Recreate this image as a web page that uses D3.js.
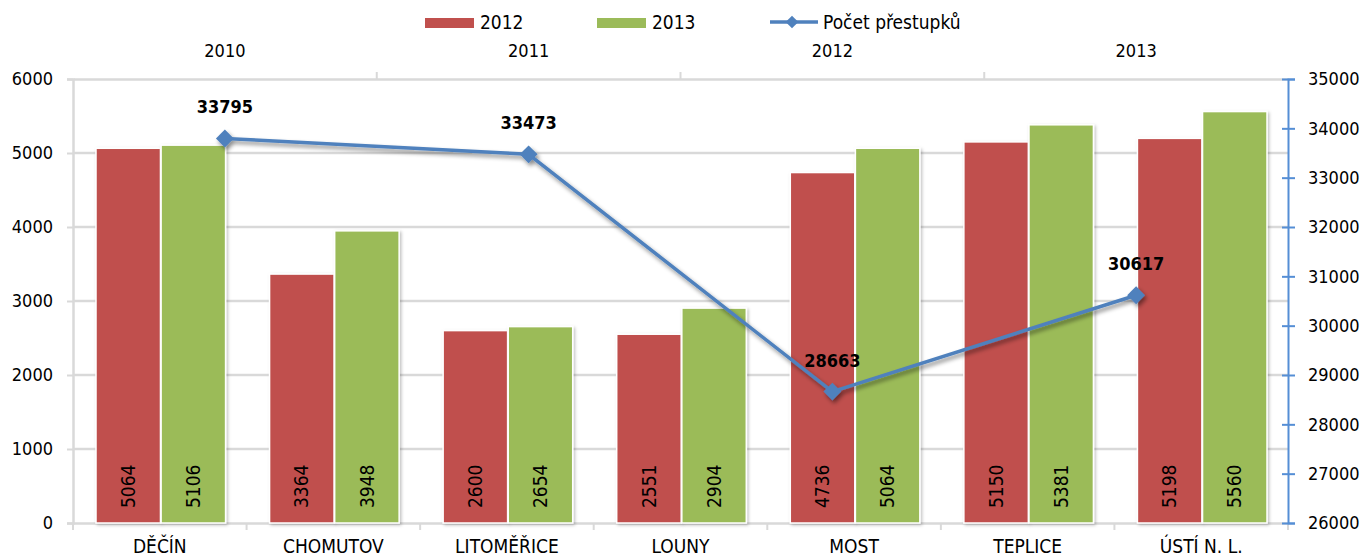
<!DOCTYPE html>
<html>
<head>
<meta charset="utf-8">
<script src="https://cdn.jsdelivr.net/npm/d3@7"></script>
<style>
  body { margin: 0; background: #fff; }
  svg text { font-family: "DejaVu Sans Condensed", "Liberation Sans Narrow", sans-serif; fill: #000; }
</style>
</head>
<body>
<div id="chart"></div>
<script>
// Data
var districts = ["DĚČÍN", "CHOMUTOV", "LITOMĚŘICE", "LOUNY", "MOST", "TEPLICE", "ÚSTÍ N. L."];
var values2012 = [5064, 3364, 2600, 2551, 4736, 5150, 5198];
var values2013 = [5106, 3948, 2654, 2904, 5064, 5381, 5560];
var years = ["2010", "2011", "2012", "2013"];
var offences = [33795, 33473, 28663, 30617];
var leftTicks = [0, 1000, 2000, 3000, 4000, 5000, 6000];
var rightTicks = [26000, 27000, 28000, 29000, 30000, 31000, 32000, 33000, 34000, 35000];

var width = 1365, height = 558;
var margin = {top: 79, right: 77, bottom: 35, left: 73};
var innerW = width - margin.left - margin.right;
var innerH = height - margin.top - margin.bottom;

var red = "#c0504d", green = "#9bbb59", blue = "#4f81bd", axisBlue = "#558ed5", grid = "#d9d9d9";

var svg = d3.select("#chart").append("svg")
    .attr("width", width)
    .attr("height", height);

// shadows like the office chart
var defs = svg.append("defs");
defs.append("filter").attr("id", "lineShadow")
    .attr("x", "-10%").attr("y", "-10%").attr("width", "120%").attr("height", "130%")
  .append("feDropShadow")
    .attr("dx", 2).attr("dy", 3).attr("stdDeviation", 2)
    .attr("flood-color", "#000").attr("flood-opacity", 0.45);
defs.append("filter").attr("id", "barShadow")
    .attr("x", "-10%").attr("y", "-5%").attr("width", "130%").attr("height", "115%")
  .append("feDropShadow")
    .attr("dx", 1.5).attr("dy", 1.5).attr("stdDeviation", 1.5)
    .attr("flood-color", "#000").attr("flood-opacity", 0.25);

var g = svg.append("g")
    .attr("transform", "translate(" + margin.left + "," + margin.top + ")");

// scales
var x = d3.scaleBand().domain(districts).range([0, innerW]).paddingInner(0).paddingOuter(0);
var xSub = d3.scaleBand().domain(["2012", "2013"]).range([23, x.bandwidth() - 21]).paddingInner(0.01);
var xTop = d3.scaleBand().domain(years).range([0, innerW]);
var y = d3.scaleLinear().domain([0, 6000]).range([innerH, 0]);
var y2 = d3.scaleLinear().domain([26000, 35000]).range([innerH, 0]);

// gridlines
g.append("g").selectAll("line")
    .data(leftTicks.slice(1, -1))
    .join("line")
    .attr("x1", 0).attr("x2", innerW)
    .attr("y1", function(d) { return y(d); })
    .attr("y2", function(d) { return y(d); })
    .attr("stroke", grid).attr("stroke-width", 2.5);

// left axis
var leftAxis = g.append("g")
    .call(d3.axisLeft(y).tickValues(leftTicks).tickSize(6).tickPadding(14).tickFormat(d3.format("d")));
leftAxis.select(".domain").attr("stroke", grid).attr("stroke-width", 2.5);
leftAxis.selectAll(".tick line").attr("stroke", grid).attr("stroke-width", 2);
leftAxis.selectAll("text").attr("font-size", 18).attr("fill", "#000")
    .style("font-family", "\"DejaVu Sans Condensed\", sans-serif");

// bottom axis (categories)
var bottomAxis = g.append("g")
    .attr("transform", "translate(0," + innerH + ")")
    .call(d3.axisBottom(x).tickSize(0).tickPadding(17));
bottomAxis.select(".domain").attr("stroke", grid).attr("stroke-width", 2.5);
bottomAxis.selectAll("text").attr("font-size", 19).attr("fill", "#000")
    .style("font-family", "\"DejaVu Sans Condensed\", sans-serif");
bottomAxis.selectAll(".sep")
    .data(d3.range(districts.length + 1))
    .join("line").attr("class", "sep")
    .attr("x1", function(i) { return i * x.step(); })
    .attr("x2", function(i) { return i * x.step(); })
    .attr("y1", 0).attr("y2", 7)
    .attr("stroke", grid).attr("stroke-width", 2);

// top axis (years)
var topAxis = g.append("g")
    .call(d3.axisTop(xTop).tickSize(0).tickPadding(22));
topAxis.select(".domain").attr("stroke", grid).attr("stroke-width", 2.5);
topAxis.selectAll("text").attr("font-size", 18).attr("fill", "#000")
    .style("font-family", "\"DejaVu Sans Condensed\", sans-serif");
topAxis.selectAll(".sep")
    .data(d3.range(1, years.length))
    .join("line").attr("class", "sep")
    .attr("x1", function(i) { return i * xTop.step(); })
    .attr("x2", function(i) { return i * xTop.step(); })
    .attr("y1", 0).attr("y2", -7)
    .attr("stroke", grid).attr("stroke-width", 2);

// bars
var rows = districts.map(function(d, i) {
  return {name: d, vals: [{key: "2012", v: values2012[i], c: red}, {key: "2013", v: values2013[i], c: green}]};
});

var groups = g.append("g").selectAll("g")
    .data(rows)
    .join("g")
    .attr("transform", function(d) { return "translate(" + x(d.name) + ",0)"; });

groups.selectAll("rect")
    .data(function(d) { return d.vals; })
    .join("rect")
    .attr("x", function(d) { return xSub(d.key); })
    .attr("width", xSub.bandwidth())
    .attr("y", function(d) { return y(d.v); })
    .attr("height", function(d) { return innerH - y(d.v); })
    .attr("fill", function(d) { return d.c; })
    .attr("stroke", "#fff").attr("stroke-width", 1.5)
    .attr("filter", "url(#barShadow)");

// values inside bars, rotated
groups.selectAll("text")
    .data(function(d) { return d.vals; })
    .join("text")
    .attr("transform", function(d) {
      return "translate(" + (xSub(d.key) + xSub.bandwidth() / 2) + "," + (innerH - 15) + ") rotate(-90)";
    })
    .attr("dy", "0.35em")
    .attr("font-size", 19)
    .text(function(d) { return d.v; });

// line on secondary axis
var pts = years.map(function(yr, i) { return {yr: yr, v: offences[i]}; });
var line = d3.line()
    .x(function(d) { return xTop(d.yr) + xTop.bandwidth() / 2; })
    .y(function(d) { return y2(d.v); });

var lineG = g.append("g").attr("filter", "url(#lineShadow)");
lineG.append("path")
    .datum(pts)
    .attr("d", line)
    .attr("fill", "none")
    .attr("stroke", blue)
    .attr("stroke-width", 3.5)
    .attr("stroke-linejoin", "round");
lineG.selectAll("path.mark")
    .data(pts)
    .join("path").attr("class", "mark")
    .attr("d", d3.symbol(d3.symbolSquare, 160))
    .attr("transform", function(d) {
      return "translate(" + (xTop(d.yr) + xTop.bandwidth() / 2) + "," + y2(d.v) + ") rotate(45)";
    })
    .attr("fill", blue);

g.append("g").selectAll("text")
    .data(pts)
    .join("text")
    .attr("x", function(d) { return xTop(d.yr) + xTop.bandwidth() / 2; })
    .attr("y", function(d) { return y2(d.v) - 25; })
    .attr("text-anchor", "middle")
    .attr("font-size", 18)
    .attr("font-weight", "bold")
    .text(function(d) { return d.v; });

// right axis
var rightAxis = g.append("g")
    .attr("transform", "translate(" + innerW + ",0)")
    .call(d3.axisRight(y2).tickValues(rightTicks).tickSize(7).tickPadding(13).tickFormat(d3.format("d")));
rightAxis.select(".domain").attr("stroke", axisBlue).attr("stroke-width", 2);
rightAxis.selectAll(".tick line").attr("x1", -6).attr("stroke", axisBlue).attr("stroke-width", 2);
rightAxis.selectAll("text").attr("font-size", 18).attr("fill", axisBlue)
    .style("font-family", "\"DejaVu Sans Condensed\", sans-serif");

// legend
var legend = svg.append("g");
var legendItems = [
  {label: "2012", c: red, x: 425, type: "rect"},
  {label: "2013", c: green, x: 597, type: "rect"},
  {label: "Počet přestupků", c: blue, x: 770, type: "line"}
];
legendItems.forEach(function(it) {
  if (it.type === "rect") {
    legend.append("rect").attr("x", it.x).attr("y", 18).attr("width", 49).attr("height", 10).attr("fill", it.c);
    legend.append("text").attr("x", it.x + 55).attr("y", 29).attr("font-size", 19).text(it.label);
  } else {
    legend.append("line").attr("x1", it.x).attr("x2", it.x + 48).attr("y1", 22).attr("y2", 22)
        .attr("stroke", it.c).attr("stroke-width", 3.5);
    legend.append("path").attr("d", d3.symbol(d3.symbolSquare, 80))
        .attr("transform", "translate(" + (it.x + 22) + ",22) rotate(45)").attr("fill", it.c);
    legend.append("text").attr("x", it.x + 53).attr("y", 29).attr("font-size", 19).text(it.label);
  }
});
</script>
</body>
</html>
